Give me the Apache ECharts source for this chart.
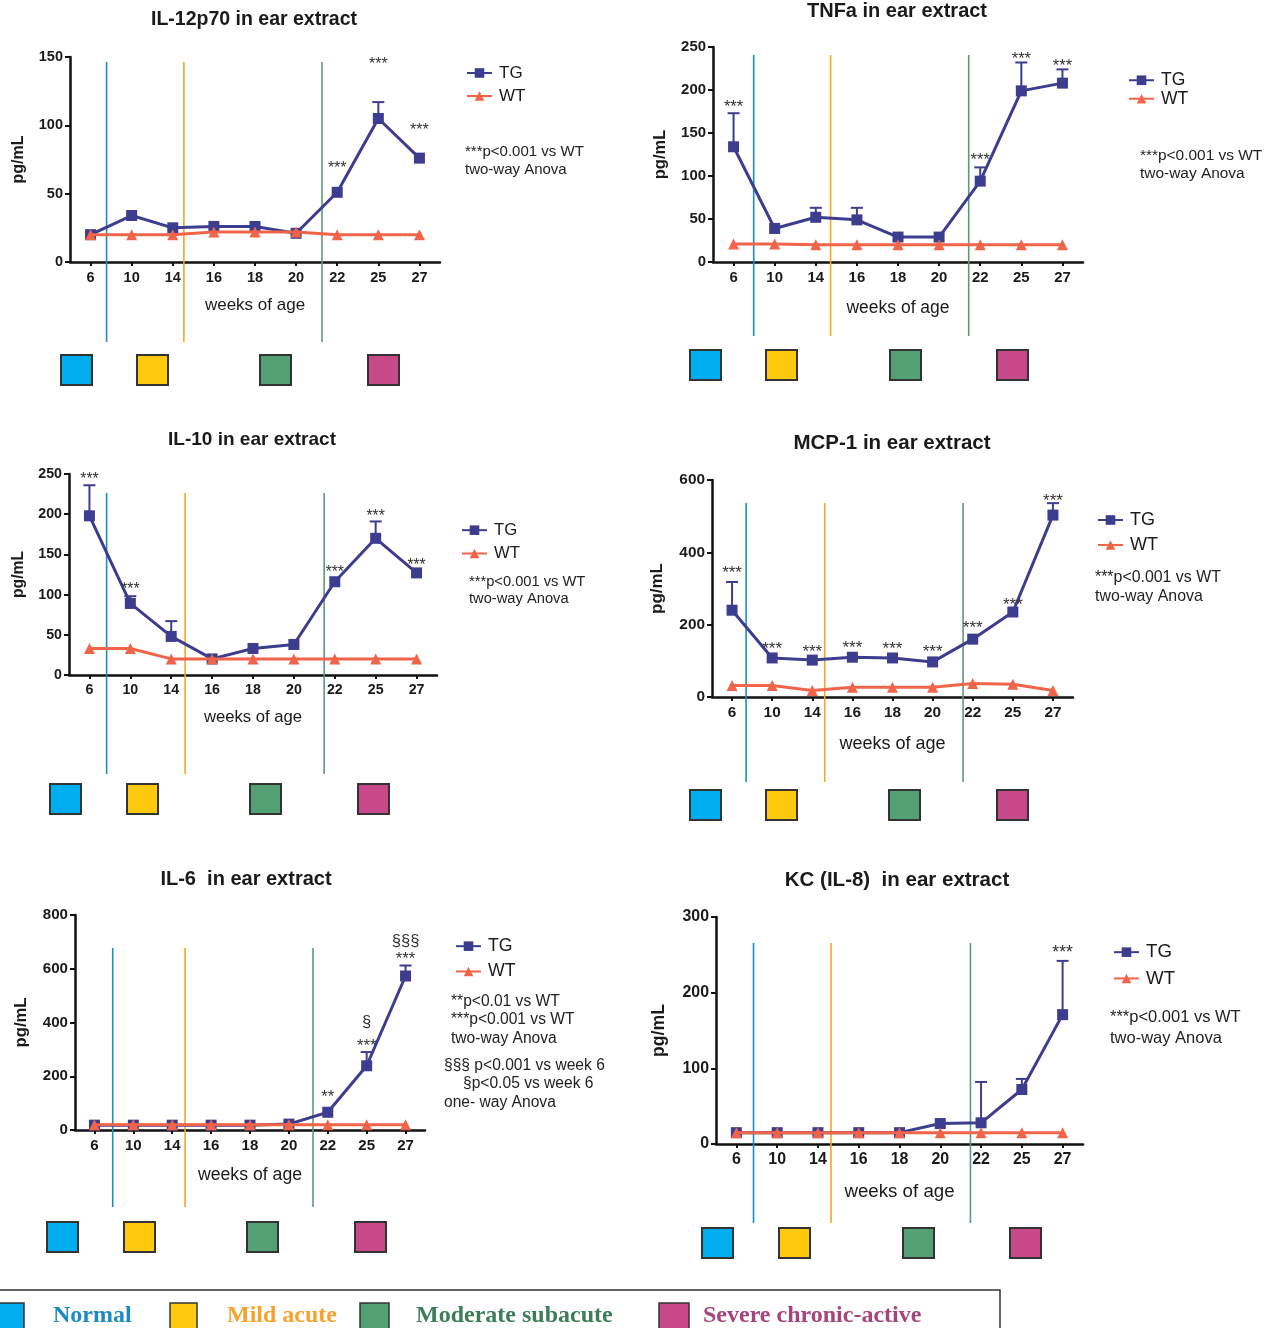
<!DOCTYPE html>
<html><head><meta charset="utf-8">
<script src="https://cdn.jsdelivr.net/npm/echarts@6/dist/echarts.min.js"></script>
<style>html,body{margin:0;padding:0;background:#fff}#c{width:1272px;height:1328px}</style>
</head><body><div id="c"></div>
<script>
// ---------------- DATA ----------------
const weeks = ['6','10','14','16','18','20','22','25','27'];

// IL-12p70
const il12TG = [20,34,25,26,26,21,51,105,76];
const il12TGErr = [null,null,null,null,null,null,null,117,null];
const il12WT = [20,20,20,22,22,22,20,20,20];
const il12Stars = [[6,71,'***'],[7,147,'***'],[8,99,'***']];
const il12Phases = [0.39,2.27,5.63];

// TNFa
const tnfTG = [134,39,52,49,29,29,94,199,208];
const tnfTGErr = [173,null,63,63,null,null,110,232,224];
const tnfWT = [21,21,20,20,20,20,20,20,20];
const tnfStars = [[0,184,'***'],[6,122,'***'],[7,240,'***'],[8,232,'***']];
const tnfPhases = [0.49,2.36,5.72];

// IL-10
const il10TG = [198,89,48,20,33,38,116,170,127];
const il10TGErr = [236,98,67,null,null,null,null,191,null];
const il10WT = [33,33,20,20,20,20,20,20,20];
const il10Stars = [[0,247,'***'],[1,111,'***'],[6,131,'***'],[7,201,'***'],[8,140,'***']];
const il10Phases = [0.42,2.34,5.74];

// MCP-1
const mcpTG = [240,108,102,110,108,97,160,235,503];
const mcpTGErr = [318,null,null,null,null,null,null,null,536];
const mcpWT = [32,32,18,27,27,27,37,35,18];
const mcpStars = [[0,351,'***'],[1,141,'***'],[2,133,'***'],[3,144,'***'],[4,141,'***'],[5,133,'***'],[6,199,'***'],[7,263,'***'],[8,550,'***']];
const mcpPhases = [0.35,2.31,5.76];

// IL-6
const il6TG = [18,18,18,18,18,22,66,239,573];
const il6TGErr = [null,null,null,null,null,null,null,290,612];
const il6WT = [20,20,20,20,20,20,20,20,20];
const il6Stars = [[6,134,'**'],[7,325,'***'],[7,400,'§'],[8,647,'***'],[8,702,'§§§']];
const il6Phases = [0.47,2.33,5.62];

// KC (IL-8)
const kcTG = [15,15,15,15,15,27,28,72,171];
const kcTGErr = [null,null,null,null,null,null,82,86,242];
const kcWT = [15,15,15,15,15,15,15,15,15];
const kcStars = [[8,257,'***']];
const kcPhases = [0.42,2.32,5.74];

const yMaxes = [150,250,250,600,800,300];
const yIntervals = [50,50,50,200,200,100];
const titles = ['IL-12p70 in ear extract','TNFa in ear extract','IL-10 in ear extract','MCP-1 in ear extract','IL-6  in ear extract','KC (IL-8)  in ear extract'];
const notes = [
  ['***p<0.001 vs WT','two-way Anova'],
  ['***p<0.001 vs WT','two-way Anova'],
  ['***p<0.001 vs WT','two-way Anova'],
  ['***p<0.001 vs WT','two-way Anova'],
  ['**p<0.01 vs WT','***p<0.001 vs WT','two-way Anova','§§§ p<0.001 vs week 6','§p<0.05 vs week 6','one- way Anova'],
  ['***p<0.001 vs WT','two-way Anova']
];
const phaseNames = ['Normal','Mild acute','Moderate subacute','Severe chronic-active'];

// ---------------- STYLE / LAYOUT ----------------
const TGC = '#3d3d8f', WTC = '#f0644a';
const phaseLineColors = ['#1b8cc6','#f5a623','#5e9a78'];
const squareFill = ['#00aeef','#ffc90e','#52a074','#c8498a'];
const phaseTextColors = ['#1b8bc4','#f6a22c','#3d7d58','#a5457c'];
const FF = '"Liberation Sans", Arial, sans-serif';

const panels = [
  {tg:il12TG, err:il12TGErr, wt:il12WT, stars:il12Stars, phases:il12Phases},
  {tg:tnfTG, err:tnfTGErr, wt:tnfWT, stars:tnfStars, phases:tnfPhases},
  {tg:il10TG, err:il10TGErr, wt:il10WT, stars:il10Stars, phases:il10Phases},
  {tg:mcpTG, err:mcpTGErr, wt:mcpWT, stars:mcpStars, phases:mcpPhases},
  {tg:il6TG, err:il6TGErr, wt:il6WT, stars:il6Stars, phases:il6Phases},
  {tg:kcTG, err:kcTGErr, wt:kcWT, stars:kcStars, phases:kcPhases}
];

// lc1/lc2: legend row centres
const layout = [
  {l:70, t:57, w:370, h:205, tx:254, ty:20, tfs:19.5, xg:35, yg:43, lx:466, lc1:73, lc2:96, lt:5, lb:80, sq:[61,137,260,368], sy:355, nx:[465,465], ny:[152,170], s:1.0},
  {l:713, t:47, w:370, h:215, tx:897, ty:11, tfs:20, xg:37, yg:45, lx:1128, lc1:80, lc2:98, lt:8, lb:74, sq:[690,766,890,997], sy:350, nx:[1140,1140], ny:[156,174], s:1.03},
  {l:69, t:474, w:368, h:201, tx:252, ty:440, tfs:19, xg:34, yg:42, lx:461, lc1:530, lc2:553, lt:19, lb:99, sq:[50,127,250,358], sy:784, nx:[469,469], ny:[582,599], s:0.98},
  {l:712, t:480, w:361, h:217, tx:892, ty:443, tfs:20.5, xg:38, yg:46, lx:1097, lc1:520, lc2:545, lt:23, lb:85, sq:[690,766,889,997], sy:790, nx:[1095,1095], ny:[578,597], s:1.06},
  {l:75, t:915, w:350, h:215, tx:246, ty:879, tfs:20, xg:36, yg:45, lx:455, lc1:946, lc2:971, lt:33, lb:77, sq:[47,124,247,355], sy:1222, nx:[451,451,451,444,463,444], ny:[1002,1020,1039,1066,1084,1103], s:1.04},
  {l:716, t:917, w:367, h:227, tx:897, ty:880, tfs:20.5, xg:38, yg:48, lx:1113, lc1:952, lc2:978, lt:26, lb:79, sq:[702,779,903,1010], sy:1228, nx:[1110,1110], ny:[1017,1038], s:1.1}
];

function txt(x, y, text, font, fill, align, valign) {
  return {type:'text', x:x, y:y, silent:true, style:{text:text, font:font, fill:fill,
    align:align||'left', verticalAlign:valign||'middle', textAlign:align||'left', textVerticalAlign:valign||'middle'}};
}

const grid = [], xAxis = [], yAxis = [], series = [], legend = [], graphic = [];

panels.forEach((P, i) => {
  const L = layout[i];
  grid.push({left:L.l, top:L.t, width:L.w, height:L.h, containLabel:false});
  xAxis.push({
    type:'category', gridIndex:i, data:weeks, boundaryGap:true,
    name:'weeks of age', nameLocation:'middle', nameGap:L.xg,
    nameTextStyle:{fontSize:17*L.s, color:'#1a1a1a', fontFamily:FF},
    axisLine:{onZero:false, lineStyle:{color:'#111', width:2.5}},
    axisTick:{show:true, alignWithLabel:true, length:4, lineStyle:{color:'#111', width:2}},
    axisLabel:{fontSize:14.5*L.s, fontWeight:'bold', color:'#1a1a1a', margin:8, fontFamily:FF, interval:0},
    splitLine:{show:false}
  });
  xAxis.push({type:'value', gridIndex:i, min:-0.5, max:8.5, show:false, axisLine:{onZero:false}});
  yAxis.push({
    type:'value', gridIndex:i, min:0, max:yMaxes[i], interval:yIntervals[i],
    name:'pg/mL', nameLocation:'middle', nameGap:L.yg, nameRotate:90,
    nameTextStyle:{fontSize:16*L.s, fontWeight:'bold', color:'#1a1a1a', fontFamily:FF},
    axisLine:{show:true, onZero:false, lineStyle:{color:'#111', width:2.5}},
    axisTick:{show:true, length:5, lineStyle:{color:'#111', width:2}},
    axisLabel:{fontSize:14.5*L.s, fontWeight:'bold', color:'#1a1a1a', margin:7, fontFamily:FF},
    splitLine:{show:false}
  });

  // phase boundary lines
  series.push({
    type:'custom', xAxisIndex:2*i+1, yAxisIndex:i, clip:false, silent:true, z:1,
    data:P.phases.map((p,k)=>[p,k]),
    renderItem:(params, api) => {
      const x = api.coord([api.value(0), 0])[0];
      const cs = params.coordSys;
      return {type:'line', shape:{x1:x, y1:cs.y+L.lt, x2:x, y2:cs.y+cs.height+L.lb},
        style:{stroke:phaseLineColors[api.value(1)], lineWidth:1.6}};
    }
  });
  // TG
  series.push({
    name:'TG', type:'line', xAxisIndex:2*i, yAxisIndex:i, data:P.tg, z:3,
    symbol:'rect', symbolSize:11, lineStyle:{color:TGC, width:3}, itemStyle:{color:TGC}
  });
  // error bars
  series.push({
    type:'custom', xAxisIndex:2*i, yAxisIndex:i, clip:false, silent:true, z:2,
    data:P.err.map((e,k)=> e==null?null:[k, P.tg[k], e]).filter(d=>d),
    renderItem:(params, api) => {
      const p0 = api.coord([api.value(0), api.value(1)]);
      const p1 = api.coord([api.value(0), api.value(2)]);
      return {type:'group', children:[
        {type:'line', shape:{x1:p0[0], y1:p0[1], x2:p1[0], y2:p1[1]}, style:{stroke:TGC, lineWidth:2}},
        {type:'line', shape:{x1:p1[0]-6, y1:p1[1], x2:p1[0]+6, y2:p1[1]}, style:{stroke:TGC, lineWidth:2}}
      ]};
    }
  });
  // WT
  series.push({
    name:'WT', type:'line', xAxisIndex:2*i, yAxisIndex:i, data:P.wt, z:4,
    symbol:'triangle', symbolSize:11, lineStyle:{color:WTC, width:3}, itemStyle:{color:WTC}
  });
  // significance stars
  series.push({
    type:'custom', xAxisIndex:2*i, yAxisIndex:i, clip:false, silent:true, z:5,
    data:P.stars.map(s=>[s[0], s[1]]),
    renderItem:(params, api) => {
      const p = api.coord([api.value(0), api.value(1)]);
      const t = P.stars[params.dataIndex][2];
      const fs = 16*L.s;
      const dy = t.indexOf('*') >= 0 ? fs*0.22 : 0;
      return {type:'text', x:p[0], y:p[1]+dy, style:{text:t, font:fs+'px '+FF, fill:'#333',
        align:'center', verticalAlign:'middle', textAlign:'center', textVerticalAlign:'middle'}};
    }
  });

  const rowH = 17*L.s;
  legend.push({
    data:['TG','WT'], orient:'vertical', left:L.lx, top:L.lc1 - rowH/2, itemGap:(L.lc2-L.lc1) - rowH,
    padding:0, itemWidth:25, itemHeight:12, selectedMode:false,
    textStyle:{fontSize:17*L.s, color:'#1a1a1a', fontFamily:FF, padding:[0,0,0,2]}
  });

  graphic.push(txt(L.tx, L.ty, titles[i], 'bold '+L.tfs+'px '+FF, '#1a1a1a', 'center', 'middle'));
  notes[i].forEach((n,k) => graphic.push(txt(L.nx[k], L.ny[k], n, (15*L.s)+'px '+FF, '#222', 'left', 'middle')));
  L.sq.forEach((x,k) => graphic.push({type:'rect', silent:true, shape:{x:x, y:L.sy, width:31, height:30},
    style:{fill:squareFill[k], stroke:'#333', lineWidth:2}}));
});

// bottom phase legend
graphic.push({type:'rect', silent:true, shape:{x:-5, y:1290, width:1005, height:60}, style:{fill:'none', stroke:'#333', lineWidth:1.5}});
const blX = [-4,170,360,659], blW = [28,27,29,30], blT = [53,227,416,703];
phaseNames.forEach((n,k) => {
  graphic.push({type:'rect', silent:true, shape:{x:blX[k], y:1303, width:blW[k], height:28},
    style:{fill:squareFill[k], stroke:'#333', lineWidth:1.5}});
  graphic.push(txt(blT[k], 1316, n, 'bold 24px "Liberation Serif", "Times New Roman", serif', phaseTextColors[k], 'left', 'middle'));
});

const chart = echarts.init(document.getElementById('c'), null, {renderer:'canvas'});
chart.setOption({
  backgroundColor:'#fff', animation:false,
  grid, xAxis, yAxis, series, legend, graphic
});
</script></body></html>
